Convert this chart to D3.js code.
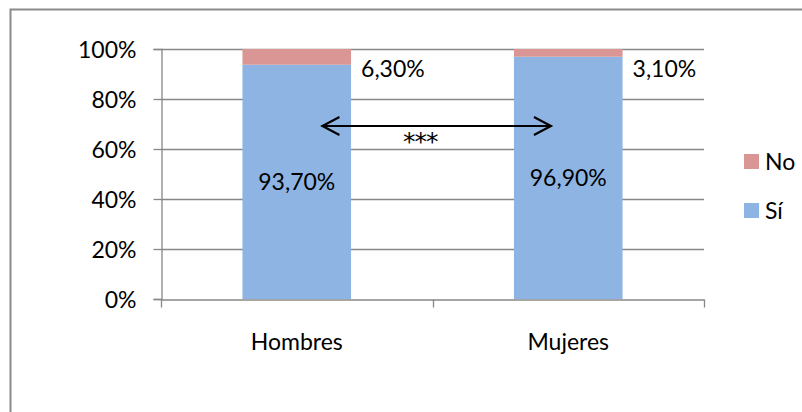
<!DOCTYPE html>
<html>
<head>
<meta charset="utf-8">
<script src="https://cdn.jsdelivr.net/npm/d3@7"></script>
<style>
  html, body { margin: 0; padding: 0; background: #fff; }
  svg { display: block; font-family: Lato, "Open Sans", sans-serif; }
</style>
</head>
<body>
<svg id="chart" width="802" height="412"></svg>
<script>
// Share answering "Sí" / "No" by sex
const categories = ["Hombres", "Mujeres"];
const siValues = [0.937, 0.969];
const noValues = [0.063, 0.031];
const siLabels = ["93,70%", "96,90%"];
const noLabels = ["6,30%", "3,10%"];
const yTicks = [0, 0.2, 0.4, 0.6, 0.8, 1];
const yTickLabels = ["0%", "20%", "40%", "60%", "80%", "100%"];
const seriesNames = ["No", "Sí"];
const seriesColors = ["#D99694", "#8EB4E3"];
const significance = "***";

const svg = d3.select("#chart");
const fontSize = 23;
const gridColor = "#878787";

// Chart frame
svg.append("rect")
  .attr("x", 10.5).attr("y", 9.5)
  .attr("width", 820).attr("height", 430)
  .attr("fill", "none")
  .attr("stroke", "#8a8a8a")
  .attr("stroke-width", 2);

const plot = { left: 161, right: 704, top: 49, bottom: 299 };

const x = d3.scaleBand().domain(categories).range([plot.left, plot.right]).padding(0);
const y = d3.scaleLinear().domain([0, 1]).range([plot.bottom, plot.top]);
const barW = x.bandwidth() * 0.4;
const barX = c => x(c) + (x.bandwidth() - barW) / 2;

// Horizontal gridlines
svg.append("g")
  .selectAll("line")
  .data(yTicks.filter(t => t > 0))
  .join("line")
  .attr("x1", plot.left).attr("x2", plot.right)
  .attr("y1", d => Math.round(y(d)) + 0.5).attr("y2", d => Math.round(y(d)) + 0.5)
  .attr("stroke", gridColor).attr("stroke-width", 1.3);

// Stacked bars
const rows = categories.map((c, i) => ({ c, si: siValues[i], no: noValues[i], i }));
const bars = svg.append("g");
bars.selectAll("rect.si")
  .data(rows).join("rect").attr("class", "si")
  .attr("x", d => barX(d.c)).attr("width", barW)
  .attr("y", d => y(d.si)).attr("height", d => y(0) - y(d.si))
  .attr("fill", seriesColors[1]);
bars.selectAll("rect.no")
  .data(rows).join("rect").attr("class", "no")
  .attr("x", d => barX(d.c)).attr("width", barW)
  .attr("y", d => y(d.si + d.no)).attr("height", d => y(d.si) - y(d.si + d.no))
  .attr("fill", seriesColors[0]);

// Y axis
const yAxis = d3.axisLeft(y)
  .tickValues(yTicks)
  .tickFormat((d, i) => yTickLabels[i])
  .tickSize(8).tickPadding(17);
const gy = svg.append("g").attr("transform", `translate(${plot.left + 0.5},0)`).call(yAxis);
gy.select(".domain").attr("stroke", gridColor).attr("stroke-width", 1.3);
gy.selectAll(".tick line").attr("stroke", gridColor).attr("stroke-width", 1.3);
gy.selectAll(".tick text")
  .attr("font-size", fontSize).attr("fill", "#000")
  .attr("font-family", "Lato, sans-serif")
  .attr("dy", "0.36em");

// X axis: baseline, category boundary ticks and labels
const xAxis = d3.axisBottom(x).tickSize(0).tickPadding(0).tickFormat(() => "");
const gx = svg.append("g").attr("transform", `translate(0,${Math.round(plot.bottom) + 0.5})`).call(xAxis);
gx.select(".domain").attr("stroke", gridColor).attr("stroke-width", 1.3);
gx.selectAll(".tick").remove();
const boundaries = [plot.left, x(categories[1]), plot.right];
gx.selectAll("line.bt").data(boundaries).join("line").attr("class", "bt")
  .attr("x1", d => Math.round(d) + 0.5).attr("x2", d => Math.round(d) + 0.5)
  .attr("y1", 0).attr("y2", 8)
  .attr("stroke", gridColor).attr("stroke-width", 1.3);
gx.selectAll("text.cat").data(categories).join("text").attr("class", "cat")
  .attr("x", d => x(d) + x.bandwidth() / 2)
  .attr("y", 50)
  .attr("text-anchor", "middle")
  .attr("font-size", fontSize)
  .attr("font-family", "Lato, sans-serif")
  .attr("fill", "#000")
  .text(d => d);

// Value labels
const labels = svg.append("g").attr("font-size", fontSize).attr("fill", "#000");
labels.selectAll("text.si").data(rows).join("text").attr("class", "si")
  .attr("x", d => barX(d.c) + barW / 2)
  .attr("y", d => y(d.si / 2))
  .attr("dy", "0.36em")
  .attr("text-anchor", "middle")
  .text(d => siLabels[d.i]);
labels.selectAll("text.no").data(rows).join("text").attr("class", "no")
  .attr("x", d => barX(d.c) + barW + 10)
  .attr("y", d => y(1) + 20)
  .attr("dy", "0.36em")
  .text(d => noLabels[d.i]);

// Significance arrow between the two bars
const arrowY = 126;
const ax1 = barX(categories[0]) + 79;
const ax2 = barX(categories[1]) + 38;
const arrow = svg.append("g").attr("stroke", "#000").attr("stroke-width", 2.2).attr("fill", "none");
arrow.append("line").attr("x1", ax1 + 1).attr("x2", ax2 - 1).attr("y1", arrowY).attr("y2", arrowY);
arrow.append("path").attr("d", `M${ax1 + 18},${arrowY - 9}L${ax1 + 1},${arrowY}L${ax1 + 18},${arrowY + 9}`);
arrow.append("path").attr("d", `M${ax2 - 18},${arrowY - 9}L${ax2 - 1},${arrowY}L${ax2 - 18},${arrowY + 9}`);
svg.append("text")
  .attr("x", 403).attr("y", arrowY + 24)
  .attr("font-size", 25)
  .attr("font-family", "'DejaVu Sans', sans-serif")
  .attr("letter-spacing", -1)
  .text(significance);

// Legend
const legend = svg.append("g");
const lg = legend.selectAll("g").data(seriesNames).join("g")
  .attr("transform", (d, i) => `translate(744,${154 + i * 49})`);
lg.append("rect").attr("width", 15).attr("height", 15).attr("fill", (d, i) => seriesColors[i]);
lg.append("text").attr("x", 21).attr("y", 7.5).attr("dy", "0.36em")
  .attr("font-size", fontSize).text(d => d);
</script>
</body>
</html>
